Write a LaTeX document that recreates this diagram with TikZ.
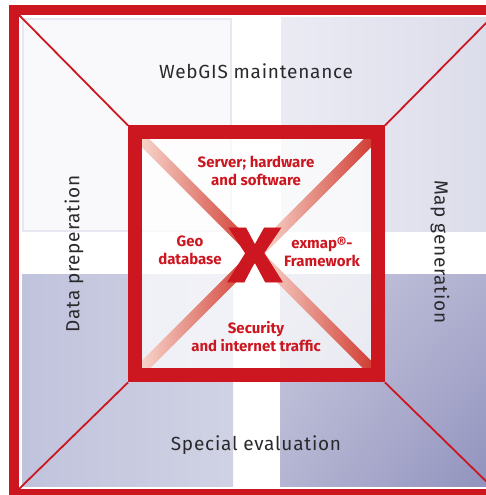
\documentclass[tikz,border=0pt]{standalone}
\usepackage{fontspec}
\setmainfont{Fira Sans}
\usetikzlibrary{shadings}
\definecolor{exred}{HTML}{CC1720}
\definecolor{textgray}{HTML}{2A2A2E}
\definecolor{tileA}{HTML}{F9F9FC}
\definecolor{tileAedge}{HTML}{E6E7F1}
\definecolor{tileB1}{HTML}{EAEBF3}
\definecolor{tileB2}{HTML}{DCDDEA}
\definecolor{tileC1}{HTML}{C0C3DC}
\definecolor{tileC2}{HTML}{D0D2E4}
\definecolor{tileD1}{HTML}{C8C8DE}
\definecolor{tileD2}{HTML}{9293BE}
\definecolor{tileD3}{HTML}{B0B1D0}
\definecolor{tileD4}{HTML}{B4B5D2}
\definecolor{bandlight}{HTML}{FAE2D8}
\definecolor{bandmid}{HTML}{E48A70}
\definecolor{banddark}{HTML}{CE3026}
\begin{document}
\begin{tikzpicture}[x=1pt,y=1pt,
  graytext/.style={text=textgray, inner sep=0pt,
    font=\fontsize{19}{22}\selectfont\addfontfeature{LetterSpace=4}},
  redtext/.style={text=exred, inner sep=0pt, align=center,
    font=\fontsize{15}{18}\selectfont\bfseries},
  thindiag/.style={draw=exred, line width=1.8pt},
  tile/.style={draw=none}]
\useasboundingbox (0,0) rectangle (486,495);
\fill[white] (0,0) rectangle (486,495);
% background tiles
\fill[tileA, draw=tileAedge, line width=1.5pt] (23,264) rectangle (231,476);
\shade[tile, left color=tileB1, right color=tileB2] (281,263) rectangle (486,477);
\shade[tile, left color=tileC1, right color=tileC2] (22,8) rectangle (233,220);
\shade[tile, upper left=tileD1, lower right=tileD2, upper right=tileD3, lower left=tileD4] (280,8) rectangle (486,220);
% outer frame
\node[draw=exred, line width=10pt, minimum width=485pt, minimum height=484pt, inner sep=0pt, outer sep=0pt] (frame) at (256.5,243) {};
\coordinate (fTL) at (19,480);
\coordinate (fTR) at (494,480);
\coordinate (fBL) at (19,6);
\coordinate (fBR) at (494,6);
% inner square fill
\fill[white, opacity=0.72] (135,119.5) rectangle (378,362.5);
% gradient bands
\foreach \a in {45,135,225,315} {
  \begin{scope}[shift={(256.5,241)}, rotate=\a]
    \shade[left color=bandlight, middle color=bandmid, right color=banddark] (0,-5.5) rectangle (172,5.5);
  \end{scope}
}
% inner square
\node[draw=exred, line width=14pt, minimum width=243pt, minimum height=243pt, inner sep=0pt, outer sep=7pt] (inner) at (256.5,241) {};
% diagonals
\draw[thindiag] (fTL) -- (inner.north west);
\draw[thindiag] (fTR) -- (inner.north east);
\draw[thindiag] (fBL) -- (inner.south west);
\draw[thindiag] (fBR) -- (inner.south east);
% texts
\node[graytext] (top) at (256,424) {WebGIS maintenance};
\node[graytext] (bottom) at (256,50) {Special evaluation};
\node[graytext, rotate=90] (left) at (74,241) {Data preperation};
\node[graytext, rotate=-90] (right) at (440,243) {Map generation};
\node[redtext] (server) at (256,324) {Server; hardware\\and software};
\node[redtext] (geo) at (190,245) {Geo\\database};
\node[redtext] (exmap) at (322,243) {exmap®-\\Framework};
\node[redtext] (security) at (256,158) {Security\\and internet traffic};
\node[text=exred, inner sep=0pt, font=\fontsize{78}{80}\selectfont\bfseries\addfontfeature{FakeBold=1.2}, xscale=1.18] (bigx) at (255,240) {X};
\end{tikzpicture}
\end{document}
